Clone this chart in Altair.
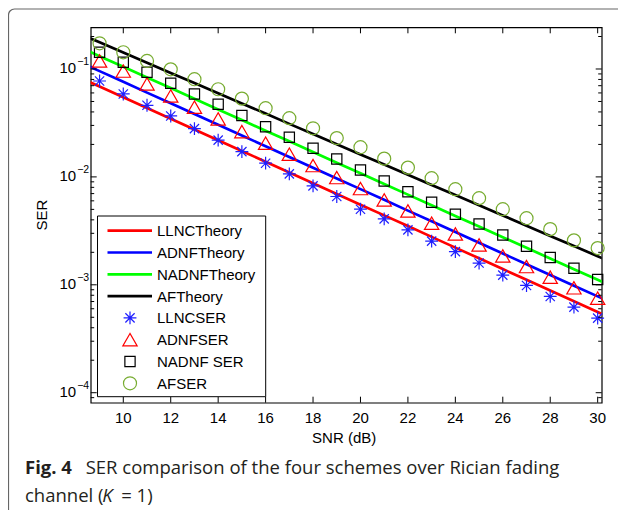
import math
import altair as alt
import pandas as pd

# ---------------- data ----------------
snr_theory = list(range(8, 32))
llnc_theory = [0.0864, 0.0687, 0.0546, 0.0435, 0.0346, 0.0275, 0.0219, 0.0174, 0.01382, 0.01099,
               0.00874, 0.00695, 0.00553, 0.00440, 0.00350, 0.00278, 0.00221, 0.00176, 0.001398,
               0.001112, 0.000884, 0.000703, 0.000559, 0.000445]
adnf_theory = [0.1201, 0.0955, 0.0760, 0.0604, 0.0481, 0.0382, 0.0304, 0.0242, 0.01924, 0.01530,
               0.01217, 0.00968, 0.00770, 0.00613, 0.00487, 0.00388, 0.00308, 0.00245, 0.00195,
               0.001551, 0.001234, 0.000982, 0.000781, 0.000621]
nadnf_theory = [0.1651, 0.1315, 0.1048, 0.0835, 0.0665, 0.0530, 0.0422, 0.0336, 0.0268, 0.02135,
                0.01701, 0.01355, 0.01080, 0.00860, 0.00685, 0.00546, 0.00435, 0.00347, 0.00276,
                0.00220, 0.001752, 0.001396, 0.001112, 0.000886]
af_theory = [0.2195, 0.1766, 0.1421, 0.1143, 0.0920, 0.0740, 0.0596, 0.0479, 0.0386, 0.0310,
             0.02496, 0.02009, 0.01616, 0.01301, 0.01047, 0.00842, 0.00678, 0.00545, 0.00439,
             0.00353, 0.00284, 0.00229, 0.001839, 0.001480]

snr_sim = list(range(9, 31))
llnc_ser = [0.0774, 0.0587, 0.0461, 0.0367, 0.0280, 0.0219, 0.01714, 0.01340, 0.01067, 0.00826,
            0.00658, 0.00502, 0.00408, 0.00323, 0.00254, 0.00203, 0.00159, 0.00123, 0.000986,
            0.000780, 0.000621, 0.000491]
adnf_ser = [0.1186, 0.0957, 0.0726, 0.0562, 0.0443, 0.0344, 0.0263, 0.0205, 0.01622, 0.01274,
            0.00986, 0.00780, 0.00612, 0.00484, 0.00372, 0.00296, 0.00234, 0.00185, 0.001476,
            0.001175, 0.000938, 0.000752]
nadnf_ser = [0.1429, 0.1153, 0.0931, 0.0738, 0.0587, 0.0471, 0.0370, 0.0292, 0.0233, 0.01841,
             0.01466, 0.01159, 0.00916, 0.00729, 0.00582, 0.00450, 0.00366, 0.00290, 0.00228,
             0.00179, 0.001426, 0.001119]
af_ser = [0.1730, 0.1429, 0.1186, 0.0993, 0.0804, 0.0649, 0.0531, 0.0433, 0.0350, 0.0282,
          0.0229, 0.01884, 0.01476, 0.01219, 0.00973, 0.00769, 0.00635, 0.00502, 0.00414,
          0.00328, 0.00258, 0.00219]

theory_names = ["LLNCTheory", "ADNFTheory", "NADNFTheory", "AFTheory"]
sim_names = ["LLNCSER", "ADNFSER", "NADNF SER", "AFSER"]

x_ticks = [10, 12, 14, 16, 18, 20, 22, 24, 26, 28, 30]
y_major = [1e-4, 1e-3, 1e-2, 1e-1]
y_minor = [9e-5] + [m * 10.0 ** e for e in (-4, -3, -2) for m in range(2, 10)] + [0.2]

x_title = "SNR (dB)"
y_title = "SER"
caption_bold = "Fig. 4"
caption_line1 = "SER comparison of the four schemes over Rician fading"
caption_line2a = "channel ("
caption_line2k = "K"
caption_line2b = "= 1)"

# ---------------- styling ----------------
W, H = 511, 375.4
FONT = "Liberation Sans"
theory_colors = ["#ff0000", "#0000ff", "#00ff00", "#000000"]
sim_colors = ["#1f1fff", "#ff0000", "#000000", "#77ac30"]
STAR = "M0,-1L0,1M-1,0L1,0M-0.72,-0.72L0.72,0.72M-0.72,0.72L0.72,-0.72"
sim_shapes = [STAR, "triangle-up", "square", "circle"]
sim_sizes = [165, 205, 105, 170]

xs = alt.Scale(domain=[8.626, 30.17], nice=False, zero=False)
ys = alt.Scale(type="log", domain=[8.08e-5, 0.2434], nice=False)

one = alt.Data(values=[{"a": 1}])

# page frame
frame = alt.Chart(one).mark_rect(
    fill="transparent", stroke="#666666", strokeWidth=1.2, cornerRadius=6
).encode(x=alt.value(-82.2), x2=alt.value(W + 60), y=alt.value(-18.3), y2=alt.value(H + 200))

# theory lines
rows = []
for name, vals in zip(theory_names, [llnc_theory, adnf_theory, nadnf_theory, af_theory]):
    for s, v in zip(snr_theory, vals):
        rows.append({"snr": s, "ser": v, "scheme": name})
theory_df = pd.DataFrame(rows)

lines = alt.Chart(theory_df).mark_line(clip=True, strokeWidth=2.7).encode(
    x=alt.X("snr:Q", scale=xs, axis=None),
    y=alt.Y("ser:Q", scale=ys, axis=None),
    color=alt.Color("scheme:N", scale=alt.Scale(domain=theory_names, range=theory_colors), legend=None),
)

# simulation markers
marker_layers = []
for name, vals, shp, col, sz in zip(sim_names, [llnc_ser, adnf_ser, nadnf_ser, af_ser],
                                    sim_shapes, sim_colors, sim_sizes):
    df = pd.DataFrame({"snr": snr_sim, "ser": vals})
    marker_layers.append(
        alt.Chart(df).mark_point(shape=shp, filled=False, color=col, size=sz,
                                 strokeWidth=1.2, opacity=1).encode(
            x=alt.X("snr:Q", scale=xs, axis=None),
            y=alt.Y("ser:Q", scale=ys, axis=None),
        )
    )

# ticks (inward, on all four sides)
xt = pd.DataFrame({"t": x_ticks, "lab": [str(v) for v in x_ticks]})
ymaj = pd.DataFrame({"t": y_major})
ymin = pd.DataFrame({"t": y_minor})
tick_layers = [
    alt.Chart(xt).mark_rule(color="black", strokeWidth=1).encode(
        x=alt.X("t:Q", scale=xs, axis=None), y=alt.value(H), y2=alt.value(H - 6)),
    alt.Chart(xt).mark_rule(color="black", strokeWidth=1).encode(
        x=alt.X("t:Q", scale=xs, axis=None), y=alt.value(0), y2=alt.value(6)),
    alt.Chart(ymaj).mark_rule(color="black", strokeWidth=1).encode(
        y=alt.Y("t:Q", scale=ys, axis=None), x=alt.value(0), x2=alt.value(6)),
    alt.Chart(ymaj).mark_rule(color="black", strokeWidth=1).encode(
        y=alt.Y("t:Q", scale=ys, axis=None), x=alt.value(W), x2=alt.value(W - 6)),
    alt.Chart(ymin).mark_rule(color="black", strokeWidth=1).encode(
        y=alt.Y("t:Q", scale=ys, axis=None), x=alt.value(0), x2=alt.value(3.5)),
    alt.Chart(ymin).mark_rule(color="black", strokeWidth=1).encode(
        y=alt.Y("t:Q", scale=ys, axis=None), x=alt.value(W), x2=alt.value(W - 3.5)),
]

# x tick labels
xlabel_layer = alt.Chart(xt).mark_text(
    align="center", baseline="alphabetic", font=FONT, fontSize=15, color="black"
).encode(x=alt.X("t:Q", scale=xs, axis=None), y=alt.value(H + 20.3), text="lab:N")

# y tick labels 10^k
ylab = pd.DataFrame({
    "v": y_major,
    "base": ["10"] * len(y_major),
    "exp": ["\u2212" + str(int(round(-math.log10(v)))) for v in y_major],
})
ylabel_layers = [
    alt.Chart(ylab).mark_text(align="right", baseline="alphabetic", dy=3.8, font=FONT,
                              fontSize=15, color="black").encode(
        y=alt.Y("v:Q", scale=ys, axis=None), x=alt.value(-14.5), text="base:N"),
    alt.Chart(ylab).mark_text(align="left", baseline="alphabetic", dy=-3.5, font=FONT,
                              fontSize=10.5, color="black").encode(
        y=alt.Y("v:Q", scale=ys, axis=None), x=alt.value(-13.5), text="exp:N"),
]

# axis titles
title_layers = [
    alt.Chart(alt.Data(values=[{"t": x_title}])).mark_text(
        align="center", baseline="alphabetic", font=FONT, fontSize=15, color="black"
    ).encode(x=alt.value(W / 2 - 2), y=alt.value(H + 40.5), text="t:N"),
    alt.Chart(alt.Data(values=[{"t": y_title}])).mark_text(
        align="center", baseline="middle", angle=270, font=FONT, fontSize=15, color="black"
    ).encode(x=alt.value(-49), y=alt.value(H / 2), text="t:N"),
]

# legend (drawn manually, MATLAB style)
LX0, LX1, LY0, LY1 = 6.8, 175.0, 188.7, 369.4
ROW0, ROWSTEP = 203.4, 21.8
legend_layers = [
    alt.Chart(one).mark_rect(fill="white", stroke="black", strokeWidth=1).encode(
        x=alt.value(LX0), x2=alt.value(LX1), y=alt.value(LY0), y2=alt.value(LY1))
]
for i, (name, col) in enumerate(zip(theory_names, theory_colors)):
    yy = ROW0 + i * ROWSTEP
    legend_layers.append(
        alt.Chart(one).mark_rule(color=col, strokeWidth=2.7).encode(
            x=alt.value(16.8), x2=alt.value(61.3), y=alt.value(yy)))
for j, (shp, col, sz) in enumerate(zip(sim_shapes, sim_colors, sim_sizes)):
    yy = ROW0 + (4 + j) * ROWSTEP
    legend_layers.append(
        alt.Chart(one).mark_point(shape=shp, filled=False, color=col, size=sz,
                                  strokeWidth=1.2, opacity=1).encode(
            x=alt.value(39.3), y=alt.value(yy)))
for k, name in enumerate(theory_names + sim_names):
    yy = ROW0 + k * ROWSTEP
    legend_layers.append(
        alt.Chart(alt.Data(values=[{"label": name}])).mark_text(
            align="left", baseline="alphabetic", dy=5.4, font=FONT, fontSize=15,
            color="black").encode(x=alt.value(66.3), y=alt.value(yy), text="label:N"))

# caption
CAP_FONT = "Open Sans"
CAP_COLOR = "#231f20"
CAP_SIZE = 18.5
cap_layers = [
    alt.Chart(alt.Data(values=[{"t": caption_bold}])).mark_text(
        align="left", baseline="alphabetic", font=CAP_FONT, fontSize=CAP_SIZE, fontWeight="bold",
        color=CAP_COLOR).encode(x=alt.value(-65.7), y=alt.value(446.5), text="t:N"),
    alt.Chart(alt.Data(values=[{"t": caption_line1}])).mark_text(
        align="left", baseline="alphabetic", font=CAP_FONT, fontSize=CAP_SIZE,
        color=CAP_COLOR).encode(x=alt.value(-5), y=alt.value(446.5), text="t:N"),
    alt.Chart(alt.Data(values=[{"t": caption_line2a}])).mark_text(
        align="left", baseline="alphabetic", font=CAP_FONT, fontSize=CAP_SIZE,
        color=CAP_COLOR).encode(x=alt.value(-65.7), y=alt.value(474.5), text="t:N"),
    alt.Chart(alt.Data(values=[{"t": caption_line2k}])).mark_text(
        align="left", baseline="alphabetic", font=CAP_FONT, fontSize=CAP_SIZE, fontStyle="italic",
        color=CAP_COLOR).encode(x=alt.value(11.5), y=alt.value(474.5), text="t:N"),
    alt.Chart(alt.Data(values=[{"t": caption_line2b}])).mark_text(
        align="left", baseline="alphabetic", font=CAP_FONT, fontSize=CAP_SIZE,
        color=CAP_COLOR).encode(x=alt.value(30.5), y=alt.value(474.5), text="t:N"),
]

chart = alt.layer(
    frame, lines, *marker_layers, *tick_layers, xlabel_layer, *ylabel_layers,
    *title_layers, *legend_layers, *cap_layers
).properties(
    width=W, height=H,
    padding={"left": 82.7, "top": 19.3, "right": 16.3, "bottom": 107.3},
    autosize=alt.AutoSizeParams(type="none"),
    background="white",
).configure_view(stroke="black", strokeWidth=1.2)

chart.save("out.html", embed_options={"renderer": "svg", "actions": False})
